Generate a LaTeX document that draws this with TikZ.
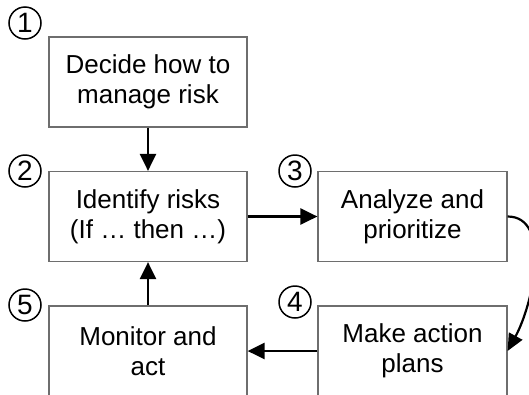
\documentclass[tikz,border=0pt]{standalone}
\usepackage{fontspec}
\setmainfont{Liberation Sans}
\usetikzlibrary{arrows.meta}
\begin{document}
\begin{tikzpicture}[x=1pt,y=-1pt,
  stepbox/.style={draw={rgb,255:red,110;green,110;blue,110}, line width=1.2pt,
    minimum height=90pt, inner sep=0pt, align=center,
    font=\fontsize{26}{30}\selectfont},
  leftbox/.style={stepbox, minimum width=198pt},
  rightbox/.style={stepbox, minimum width=189pt},
  flow/.style={line width=2.6pt, -{Triangle[length=17pt,width=16pt]}},
  curvedflow/.style={line width=2.2pt, -{Triangle[length=17pt,width=15pt]}},
  num/.style={circle, draw, line width=1.5pt, minimum size=32pt, inner sep=0pt,
    font=\fontsize{28}{28}\selectfont}]
\useasboundingbox (0,0) rectangle (529,394);
\clip (0,0) rectangle (529,394);
% step boxes
\node[leftbox]  (decide)   at (148,82)    {Decide how to\\manage risk};
\node[leftbox]  (identify) at (148,216.5) {Identify risks\\(If … then …)};
\node[rightbox] (analyze)  at (412.5,216.5) {Analyze and\\prioritize};
\node[rightbox] (plan)     at (412.5,351) {Make action\\plans};
\node[leftbox]  (monitor)  at (148,351)   {Monitor and\\act};
% step numbers
\node[num] (n1) at (25,23)  {1};
\node[num] (n2) at (25,171) {2};
\node[num] (n3) at (295,171) {3};
\node[num] (n4) at (295,302) {4};
\node[num] (n5) at (25,305) {5};
% connectors
\draw[flow] (decide) -- (identify);
\draw[flow] (identify) -- (analyze);
\draw[curvedflow] (analyze.east) .. controls +(44,0) and +(26,-48) .. (plan.east);
\draw[flow] (plan) -- (monitor);
\draw[flow] (monitor) -- (identify);
\end{tikzpicture}
\end{document}
